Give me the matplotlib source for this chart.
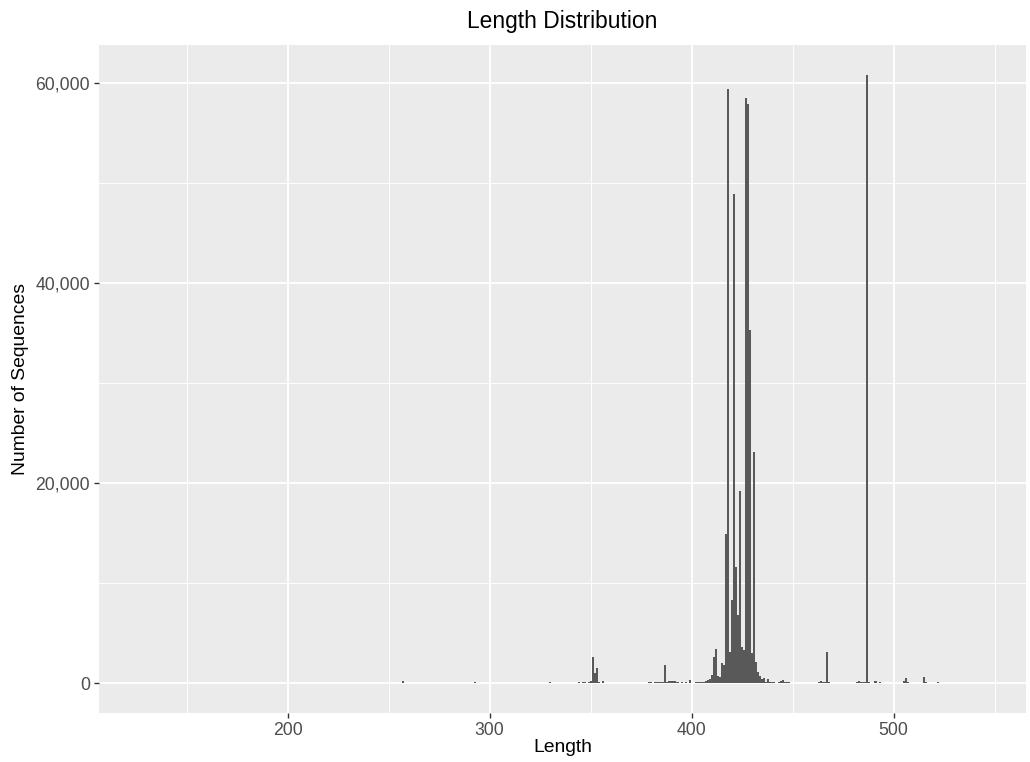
import matplotlib
matplotlib.use("Agg")
import matplotlib.pyplot as plt
from matplotlib.ticker import FuncFormatter, MultipleLocator

plt.rcParams["font.family"] = ["Liberation Sans", "DejaVu Sans"]

# histogram bins (length -> number of sequences), empty bins left out
lengths = [128, 140, 155, 170, 185, 212, 230, 245, 257, 270, 285, 293, 305, 318,
           327, 330, 335, 340, 344, 346, 347, 349, 350, 351, 352, 353, 354, 356,
           360, 365, 369, 372, 376, 379, 380, 382, 383, 384, 385, 386, 387, 388,
           389, 390, 391, 392, 393, 395, 397, 399, 401, 402, 403,
           404, 405, 406, 407, 408, 409, 410, 411, 412, 413, 414, 415, 416, 417,
           418, 419, 420, 421, 422, 423, 424, 425, 426, 427, 428, 429, 430, 431,
           432, 433, 434, 435, 436, 437, 438, 439, 440, 441, 442, 443, 444, 445,
           446, 447, 448, 450, 452, 455, 458, 460, 463, 464, 465, 466, 467, 468,
           470, 472, 474, 477, 480, 482, 483, 484, 485, 486, 487, 488, 489, 491,
           493, 495, 498, 500, 503, 505, 506, 507, 510, 513, 515, 516, 518, 520,
           522, 525, 530, 535, 540, 544]
counts = [3, 2, 4, 3, 5, 3, 4, 6, 180, 5, 8, 90, 10, 15,
          40, 60, 30, 45, 60, 80, 70, 120, 200, 2600, 1000, 1500, 150, 220,
          40, 30, 50, 25, 40, 60, 70, 80, 90, 120, 110, 150, 1850, 120,
          180, 250, 230, 160, 80, 60, 90, 300, 40, 60, 80,
          60, 100, 150, 200, 350, 400, 800, 2600, 3400, 700, 650, 2000, 1800, 14900,
          59400, 3100, 8300, 48900, 11600, 6800, 19200, 3600, 3300, 58500, 57900, 35300, 3000, 23100,
          2100, 1100, 700, 400, 550, 150, 450, 100, 100, 100, 50, 150, 200, 300,
          150, 100, 80, 40, 30, 20, 40, 30, 80, 220, 150, 100, 3150, 60,
          30, 40, 30, 40, 30, 60, 250, 80, 120, 150, 60800, 60, 40, 250,
          60, 40, 30, 40, 50, 220, 550, 60, 30, 40, 650, 150, 50, 40,
          60, 20, 15, 10, 5, 3]

W, H = 1030, 762
fig = plt.figure(figsize=(W / 100, H / 100), dpi=100)
ax = fig.add_axes([99 / W, 1 - 713.4 / H, (1025.7 - 99) / W, (713.4 - 44.6) / H])

ax.set_facecolor("#EBEBEB")
ax.bar(lengths, counts, width=1.0, color="#595959", linewidth=0, zorder=3)

# ggplot-like 5% expansion
lo, hi = min(lengths) - 0.5, max(lengths) + 0.5
dx = (hi - lo) * 0.05
ax.set_xlim(lo - dx, hi + dx)
ymax = max(counts)
ax.set_ylim(-ymax * 0.05, ymax * 1.05)

ax.xaxis.set_major_locator(MultipleLocator(100))
ax.xaxis.set_minor_locator(MultipleLocator(50))
ax.yaxis.set_major_locator(MultipleLocator(20000))
ax.yaxis.set_minor_locator(MultipleLocator(10000))
ax.yaxis.set_major_formatter(FuncFormatter(lambda v, p: f"{int(v):,}"))

ax.grid(which="major", color="white", linewidth=1.3, zorder=1)
ax.grid(which="minor", color="white", linewidth=0.65, zorder=1)
ax.set_axisbelow(True)
for s in ax.spines.values():
    s.set_visible(False)

ax.tick_params(which="major", length=3.6, width=1.0, color="#333333",
               labelcolor="#4D4D4D", labelsize=12.7, pad=2.9)
ax.tick_params(which="minor", length=0)

fig.text((99 + 1025.7) / 2 / W, 1 - 28 / H, "Length Distribution",
         ha="center", va="baseline", fontsize=16.4, color="black")
fig.text((99 + 1025.7) / 2 / W, 1 - 752 / H, "Length",
         ha="center", va="baseline", fontsize=13.9, color="black")
fig.text(21 / W, 1 - (44.6 + 713.4) / 2 / H, "Number of Sequences",
         ha="center", va="center", rotation=90, fontsize=13.9, color="black")

fig.savefig("out.png", dpi=100, facecolor="white")
